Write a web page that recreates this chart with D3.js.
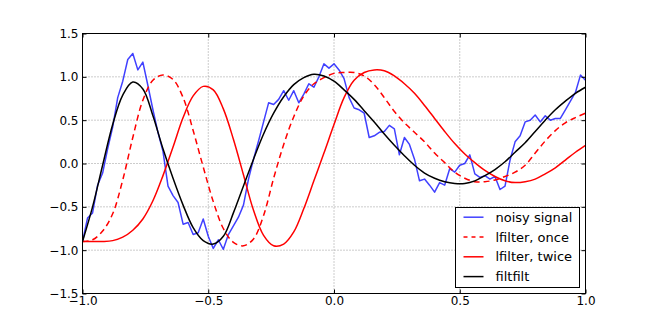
<!DOCTYPE html>
<html>
<head>
<meta charset="utf-8">
<script src="https://cdn.jsdelivr.net/npm/d3@7"></script>
<style>
  body { margin: 0; background: #fff; }
  svg { display: block; font-family: "DejaVu Sans", sans-serif; }
</style>
</head>
<body>
<svg id="chart" width="650" height="325"></svg>
<script>
const xTicks = [-1.0, -0.5, 0.0, 0.5, 1.0];
const yTicks = [-1.5, -1.0, -0.5, 0.0, 0.5, 1.0, 1.5];
const seriesNames = ["noisy signal", "lfilter, once", "lfilter, twice", "filtfilt"];

// sample times: noisy every 0.02, smooth curves read every 0.04
const tNoisy = d3.range(101).map(i => -1 + i * 0.02);
const tSmooth = d3.range(51).map(i => -1 + i * 0.04);

const noisy = [
  -0.90, -0.63, -0.57, -0.25, -0.11, 0.17, 0.42, 0.76, 0.95, 1.20,
  1.27, 1.08, 1.17, 0.90, 0.62, 0.36, 0.14, -0.26, -0.37, -0.45,
  -0.70, -0.68, -0.82, -0.80, -0.64, -0.84, -0.98, -0.88, -0.99, -0.82,
  -0.72, -0.62, -0.48, -0.18, 0.05, 0.26, 0.48, 0.70, 0.68, 0.74,
  0.84, 0.73, 0.84, 0.70, 0.80, 0.92, 0.88, 1.00, 1.15, 1.10,
  1.15, 1.08, 0.98, 0.76, 0.64, 0.62, 0.58, 0.30, 0.32, 0.36,
  0.37, 0.44, 0.40, 0.10, 0.30, 0.22, 0.05, -0.20, -0.18, -0.25,
  -0.33, -0.22, -0.25, -0.06, -0.10, -0.02, 0.00, 0.10, -0.12, -0.16,
  -0.14, -0.18, -0.15, -0.30, -0.26, 0.04, 0.25, 0.32, 0.48, 0.50,
  0.56, 0.48, 0.55, 0.50, 0.52, 0.52, 0.62, 0.72, 0.82, 1.02,
  0.96
];

const once = [
  -0.90, -0.88, -0.78, -0.58, -0.19, 0.30, 0.73, 0.96, 1.02, 0.97,
  0.76, 0.38, -0.04, -0.44, -0.75, -0.91, -0.95, -0.87, -0.60, -0.17,
  0.22, 0.54, 0.78, 0.92, 0.99, 1.04, 1.05, 1.05, 1.01, 0.91,
  0.76, 0.60, 0.47, 0.36, 0.25, 0.12, 0.01, -0.10, -0.17, -0.21,
  -0.21, -0.19, -0.15, -0.10, -0.02, 0.12, 0.26, 0.38, 0.47, 0.53,
  0.58
];

const twice = [
  -0.90, -0.90, -0.90, -0.89, -0.85, -0.77, -0.64, -0.43, -0.14, 0.19,
  0.53, 0.78, 0.89, 0.85, 0.63, 0.28, -0.13, -0.54, -0.83, -0.95,
  -0.93, -0.79, -0.52, -0.20, 0.12, 0.45, 0.76, 0.96, 1.05, 1.08,
  1.07, 1.01, 0.92, 0.81, 0.67, 0.52, 0.37, 0.23, 0.11, 0.01,
  -0.08, -0.15, -0.20, -0.22, -0.21, -0.18, -0.12, -0.05, 0.04, 0.13,
  0.21
];

const filtfilt = [
  -0.90, -0.50, -0.02, 0.45, 0.79, 0.94, 0.86, 0.55, 0.17, -0.17,
  -0.48, -0.74, -0.89, -0.93, -0.84, -0.57, -0.26, 0.05, 0.34, 0.58,
  0.77, 0.91, 0.99, 1.03, 1.01, 0.95, 0.85, 0.74, 0.61, 0.48,
  0.34, 0.21, 0.09, -0.02, -0.11, -0.17, -0.21, -0.23, -0.23, -0.20,
  -0.14, -0.07, 0.02, 0.13, 0.24, 0.37, 0.50, 0.62, 0.72, 0.81,
  0.88
];

const series = [
  { name: seriesNames[0], t: tNoisy, v: noisy, color: "rgba(0,0,255,0.75)", dash: null, width: 1.5, curve: d3.curveLinear },
  { name: seriesNames[1], t: tSmooth, v: once, color: "#ff0000", dash: "6,4", width: 1.5, curve: d3.curveCatmullRom },
  { name: seriesNames[2], t: tSmooth, v: twice, color: "#ff0000", dash: null, width: 1.5, curve: d3.curveCatmullRom },
  { name: seriesNames[3], t: tSmooth, v: filtfilt, color: "#000000", dash: null, width: 1.5, curve: d3.curveCatmullRom }
];

const svg = d3.select("#chart");
const width = 650, height = 325;
const margin = { top: 33, right: 65, bottom: 32, left: 82 };

const x = d3.scaleLinear().domain([-1, 1]).range([margin.left, width - margin.right]);
const y = d3.scaleLinear().domain([-1.5, 1.5]).range([height - margin.bottom, margin.top]);

const root = svg.append("g").attr("transform", "translate(0.5,0.5)");

svg.append("defs").append("clipPath").attr("id", "plotClip")
  .append("rect")
  .attr("x", x(-1)).attr("y", y(1.5))
  .attr("width", x(1) - x(-1)).attr("height", y(-1.5) - y(1.5));

// dotted grid
root.append("g").selectAll("line")
  .data(xTicks)
  .enter().append("line")
  .attr("x1", d => x(d)).attr("x2", d => x(d))
  .attr("y1", y(1.5)).attr("y2", y(-1.5))
  .attr("stroke", "#999").attr("stroke-width", 1).attr("stroke-dasharray", "1,2");

root.append("g").selectAll("line")
  .data(yTicks)
  .enter().append("line")
  .attr("x1", x(-1)).attr("x2", x(1))
  .attr("y1", d => y(d)).attr("y2", d => y(d))
  .attr("stroke", "#999").attr("stroke-width", 1).attr("stroke-dasharray", "1,2");

// curves
const plot = root.append("g").attr("clip-path", "url(#plotClip)");
series.forEach(s => {
  const line = d3.line()
    .x((d, i) => x(s.t[i]))
    .y(d => y(d))
    .curve(s.curve);
  plot.append("path")
    .datum(s.v)
    .attr("fill", "none")
    .attr("stroke", s.color)
    .attr("stroke-width", s.width)
    .attr("stroke-dasharray", s.dash)
    .attr("stroke-linejoin", "round")
    .attr("d", line);
});

// axes with inward ticks on all four sides
const fmt = d3.format(".1f");
const styleAxis = g => {
  g.select(".domain").remove();
  g.selectAll("text").attr("font-size", 12).attr("fill", "#000")
    .attr("font-family", "DejaVu Sans, sans-serif");
  g.selectAll("line").attr("stroke", "#000");
};

root.append("g")
  .attr("transform", `translate(0,${y(-1.5)})`)
  .call(d3.axisBottom(x).tickValues(xTicks).tickFormat(fmt).tickSize(-4).tickPadding(3))
  .call(styleAxis);

root.append("g")
  .attr("transform", `translate(0,${y(1.5)})`)
  .call(d3.axisTop(x).tickValues(xTicks).tickFormat("").tickSize(-4))
  .call(styleAxis);

root.append("g")
  .attr("transform", `translate(${x(-1)},0)`)
  .call(d3.axisLeft(y).tickValues(yTicks).tickFormat(fmt).tickSize(-4).tickPadding(4))
  .call(styleAxis);

root.append("g")
  .attr("transform", `translate(${x(1)},0)`)
  .call(d3.axisRight(y).tickValues(yTicks).tickFormat("").tickSize(-4))
  .call(styleAxis);

// frame
root.append("rect")
  .attr("x", x(-1)).attr("y", y(1.5))
  .attr("width", x(1) - x(-1)).attr("height", y(-1.5) - y(1.5))
  .attr("fill", "none").attr("stroke", "#000").attr("stroke-width", 1);

// legend, lower right
const legW = 124, legH = 80, rowH = 19.8;
const legend = root.append("g")
  .attr("transform", `translate(${x(1) - 6 - legW},${y(-1.5) - 6 - legH})`);

legend.append("rect")
  .attr("width", legW).attr("height", legH)
  .attr("fill", "#fff").attr("stroke", "#000").attr("stroke-width", 1);

const items = legend.selectAll("g.item")
  .data(series)
  .enter().append("g")
  .attr("class", "item")
  .attr("transform", (d, i) => `translate(0,${9.7 + i * rowH})`);

items.append("line")
  .attr("x1", 8).attr("x2", 28)
  .attr("stroke", d => d.color)
  .attr("stroke-width", d => d.width)
  .attr("stroke-dasharray", d => d.dash ? "4,4" : null);

items.append("text")
  .attr("x", 40)
  .attr("dy", "0.36em")
  .attr("font-size", 13)
  .attr("fill", "#000")
  .text(d => d.name);
</script>
</body>
</html>
